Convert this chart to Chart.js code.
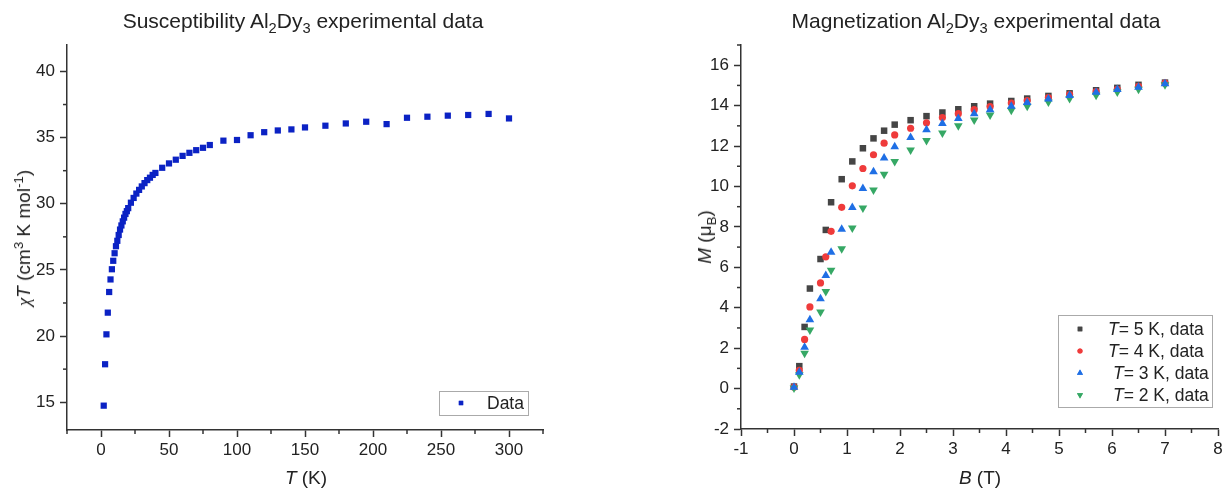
<!DOCTYPE html>
<html>
<head>
<meta charset="utf-8">
<script src="https://cdn.jsdelivr.net/npm/chart.js@4.4.1/dist/chart.umd.min.js"></script>
<style>
  body { margin: 0; background: #fff; width: 1226px; height: 491px; position: relative; overflow: hidden;
         font-family: 'Liberation Sans', Arial, sans-serif; color: #222; }
  .pane { position: absolute; top: 0; width: 613px; height: 491px; }
  .lbl { position: absolute; white-space: nowrap; font-size: 19px; transform: translate(-50%, -50%); }
  .ttl { font-size: 21px; }
  .rot { transform: translate(-50%, -50%) rotate(-90deg); }
  sub, sup { font-size: 70%; line-height: 0; }
  .gr { font-family: 'Liberation Serif', 'DejaVu Serif', serif; font-style: italic; }
</style>
</head>
<body>
<div class="pane" style="left:0"><canvas id="chiChart" width="613" height="491"></canvas></div>
<div class="pane" style="left:613px"><canvas id="magChart" width="613" height="491"></canvas></div>

<div class="lbl ttl" style="left:303px;top:21px">Susceptibility Al<sub>2</sub>Dy<sub>3</sub> experimental data</div>
<div class="lbl ttl" style="left:976px;top:21px">Magnetization Al<sub>2</sub>Dy<sub>3</sub> experimental data</div>
<div class="lbl rot" style="left:24px;top:238px"><span class="gr">χ</span><i>T</i> (cm<sup>3</sup> K mol<sup>-1</sup>)</div>
<div class="lbl rot" style="left:705px;top:237px"><i>M</i> (μ<sub>B</sub>)</div>
<div class="lbl" style="left:306px;top:478px"><i>T</i> (K)</div>
<div class="lbl" style="left:980px;top:478px"><i>B</i> (T)</div>

<script>
// susceptibility data
const temps = [2, 3, 4, 5, 6, 7, 8, 9, 10, 11, 12, 13, 14, 15, 16, 17, 18, 19, 20, 22, 24, 26, 28, 30, 32, 34, 36, 38, 40,
  45, 50, 55, 60, 65, 70, 75, 80, 90, 100, 110, 120, 130, 140, 150, 165, 180, 195, 210, 225, 240, 255, 270, 285, 300];
const chiT = [14.74, 17.87, 20.13, 21.77, 23.33, 24.28, 25.05, 25.69, 26.26, 26.79, 27.2, 27.64, 28.05, 28.36, 28.67,
  28.95, 29.23, 29.44, 29.67, 30.08, 30.44, 30.77, 31.05, 31.31, 31.56, 31.79, 31.97, 32.18, 32.33,
  32.72, 33.05, 33.33, 33.62, 33.85, 34.05, 34.23, 34.44, 34.77, 34.82, 35.18, 35.41, 35.54, 35.62, 35.77,
  35.9, 36.07, 36.2, 36.02, 36.5, 36.58, 36.66, 36.71, 36.79, 36.45];

// magnetization data
const field = [0, 0.1, 0.2, 0.3, 0.5, 0.6, 0.7, 0.9, 1.1, 1.3, 1.5, 1.7, 1.9, 2.2, 2.5, 2.8, 3.1, 3.4, 3.7, 4.1, 4.4,
  4.8, 5.2, 5.7, 6.1, 6.5, 7.0];
const m5K = [0.1, 1.11, 3.05, 4.95, 6.41, 7.85, 9.22, 10.36, 11.24, 11.89, 12.38, 12.76, 13.06, 13.28, 13.48, 13.66,
  13.82, 13.97, 14.1, 14.23, 14.35, 14.48, 14.61, 14.76, 14.88, 15.03, 15.14];
const m4K = [0.07, 0.9, 2.43, 4.04, 5.23, 6.52, 7.78, 8.97, 10.03, 10.89, 11.57, 12.14, 12.55, 12.88, 13.15, 13.41,
  13.6, 13.8, 13.95, 14.13, 14.25, 14.4, 14.55, 14.7, 14.81, 14.96, 15.11];
const m3K = [0.07, 0.81, 2.04, 3.41, 4.45, 5.6, 6.74, 7.88, 8.96, 9.9, 10.73, 11.41, 11.97, 12.42, 12.81, 13.11,
  13.36, 13.6, 13.8, 13.97, 14.15, 14.33, 14.5, 14.66, 14.8, 14.91, 15.08];
const m2K = [0.03, 0.68, 1.75, 2.9, 3.79, 4.8, 5.86, 6.92, 7.95, 8.94, 9.83, 10.61, 11.24, 11.8, 12.28, 12.65,
  13.01, 13.29, 13.54, 13.77, 13.97, 14.18, 14.35, 14.51, 14.68, 14.81, 15.03];

// tick labels
const chiXTicks = [0, 50, 100, 150, 200, 250, 300];
const chiYTicks = [15, 20, 25, 30, 35, 40];
const magXTicks = [-1, 0, 1, 2, 3, 4, 5, 6, 7, 8];
const magYTicks = [-2, 0, 2, 4, 6, 8, 10, 12, 14, 16];

const AXIS = '#333';
const FONT = "'Liberation Sans', Arial, sans-serif";

function pts(xs, ys) {
  return xs.map((x, i) => ({ x: x, y: ys[i] }));
}

// minor ticks halfway between the major ones (plus one step outside)
function halves(ticks) {
  const step = ticks[1] - ticks[0];
  const out = [ticks[0] - step / 2];
  ticks.forEach(t => out.push(t + step / 2));
  return out;
}

const minorTicks = {
  id: 'minorTicks',
  afterDraw(chart) {
    const ctx = chart.ctx, xs = chart.scales.x, ys = chart.scales.y;
    const a = chart.chartArea;
    ctx.save();
    ctx.strokeStyle = AXIS;
    ctx.lineWidth = 1.5;
    halves(xs.ticks.map(t => t.value)).forEach(v => {
      const p = xs.getPixelForValue(v);
      if (p < a.left - 1 || p > a.right + 1) return;
      ctx.beginPath(); ctx.moveTo(p, a.bottom); ctx.lineTo(p, a.bottom + 4); ctx.stroke();
    });
    halves(ys.ticks.map(t => t.value)).forEach(v => {
      const p = ys.getPixelForValue(v);
      if (p < a.top - 1 || p > a.bottom + 1) return;
      ctx.beginPath(); ctx.moveTo(a.left, p); ctx.lineTo(a.left - 4, p); ctx.stroke();
    });
    ctx.restore();
  }
};

// boxed legend with partly italic text
const boxLegend = {
  id: 'boxLegend',
  afterDraw(chart, args, opts) {
    const ctx = chart.ctx, b = opts.box;
    ctx.save();
    ctx.strokeStyle = '#aaa';
    ctx.lineWidth = 1;
    ctx.strokeRect(b.x + 0.5, b.y + 0.5, b.w, b.h);
    opts.items.forEach(it => {
      const ds = chart.data.datasets[it.ds];
      ctx.fillStyle = ds.backgroundColor;
      Chart.helpers.drawPoint(ctx, {
        pointStyle: ds.pointStyle, radius: ds.pointRadius * 0.7, rotation: ds.rotation || 0, borderWidth: 0
      }, it.mx, it.y);
      ctx.fill();
      let x = it.tx;
      ctx.fillStyle = '#222';
      ctx.textBaseline = 'middle';
      it.parts.forEach(p => {
        ctx.font = (p.i ? 'italic ' : '') + '17.5px ' + FONT;
        ctx.fillText(p.t, x, it.y + 1);
        x += ctx.measureText(p.t).width;
      });
    });
    ctx.restore();
  }
};

function axis(ticks, fitProp, fitVal, min, max, pad) {
  return {
    type: 'linear',
    min: min,
    max: max,
    afterBuildTicks: s => { s.ticks = ticks.map(v => ({ value: v })); },
    afterFit: s => { s[fitProp] = fitVal; },
    border: { display: true, color: AXIS, width: 1.5 },
    grid: { drawOnChartArea: false, drawTicks: true, tickLength: 7, tickColor: AXIS, tickWidth: 1.5 },
    ticks: { color: '#222', padding: pad, font: { family: FONT, size: 17 } }
  };
}

Chart.defaults.animation = false;

new Chart(document.getElementById('chiChart'), {
  type: 'scatter',
  data: {
    datasets: [{
      label: 'Data',
      data: pts(temps, chiT),
      pointStyle: 'rect',
      pointRadius: 4.4,
      backgroundColor: '#0b22c4',
      borderWidth: 0
    }]
  },
  options: {
    responsive: false,
    devicePixelRatio: 1,
    layout: { padding: { left: 0, top: 45, right: 70, bottom: 21 } },
    scales: {
      x: axis(chiXTicks, 'height', 40, -25, 325, 3),
      y: axis(chiYTicks, 'width', 67, 12.9, 42, 5)
    },
    plugins: {
      legend: { display: false },
      tooltip: { enabled: false },
      boxLegend: {
        box: { x: 439, y: 391, w: 89, h: 24 },
        items: [{ ds: 0, mx: 461, tx: 487, y: 403, parts: [{ t: 'Data' }] }]
      }
    }
  },
  plugins: [minorTicks, boxLegend]
});

new Chart(document.getElementById('magChart'), {
  type: 'scatter',
  data: {
    datasets: [
      { label: 'T= 5 K, data', data: pts(field, m5K), pointStyle: 'rect', pointRadius: 4.6,
        backgroundColor: '#454545', borderWidth: 0, order: 4 },
      { label: 'T= 4 K, data', data: pts(field, m4K), pointStyle: 'circle', pointRadius: 3.6,
        backgroundColor: '#ef3b3b', borderWidth: 0, order: 3 },
      { label: 'T= 3 K, data', data: pts(field, m3K), pointStyle: 'triangle', pointRadius: 5,
        backgroundColor: '#1f6fe5', borderWidth: 0, order: 1 },
      { label: 'T= 2 K, data', data: pts(field, m2K), pointStyle: 'triangle', rotation: 180, pointRadius: 5,
        backgroundColor: '#36a865', borderWidth: 0, order: 2 }
    ]
  },
  options: {
    responsive: false,
    devicePixelRatio: 1,
    layout: { padding: { left: 0, top: 45, right: 8, bottom: 22 } },
    scales: {
      x: axis(magXTicks, 'height', 40, -1, 8, 3),
      y: axis(magYTicks, 'width', 128, -2, 17, 5)
    },
    plugins: {
      legend: { display: false },
      tooltip: { enabled: false },
      boxLegend: {
        box: { x: 445, y: 315, w: 154, h: 92 },
        items: [
          { ds: 0, mx: 467, tx: 495, y: 329, parts: [{ t: 'T', i: true }, { t: '= 5 K, data' }] },
          { ds: 1, mx: 467, tx: 495, y: 351, parts: [{ t: 'T', i: true }, { t: '= 4 K, data' }] },
          { ds: 2, mx: 467, tx: 500, y: 373, parts: [{ t: 'T', i: true }, { t: '= 3 K, data' }] },
          { ds: 3, mx: 467, tx: 500, y: 395, parts: [{ t: 'T', i: true }, { t: '= 2 K, data' }] }
        ]
      }
    }
  },
  plugins: [minorTicks, boxLegend]
});
</script>
</body>
</html>
